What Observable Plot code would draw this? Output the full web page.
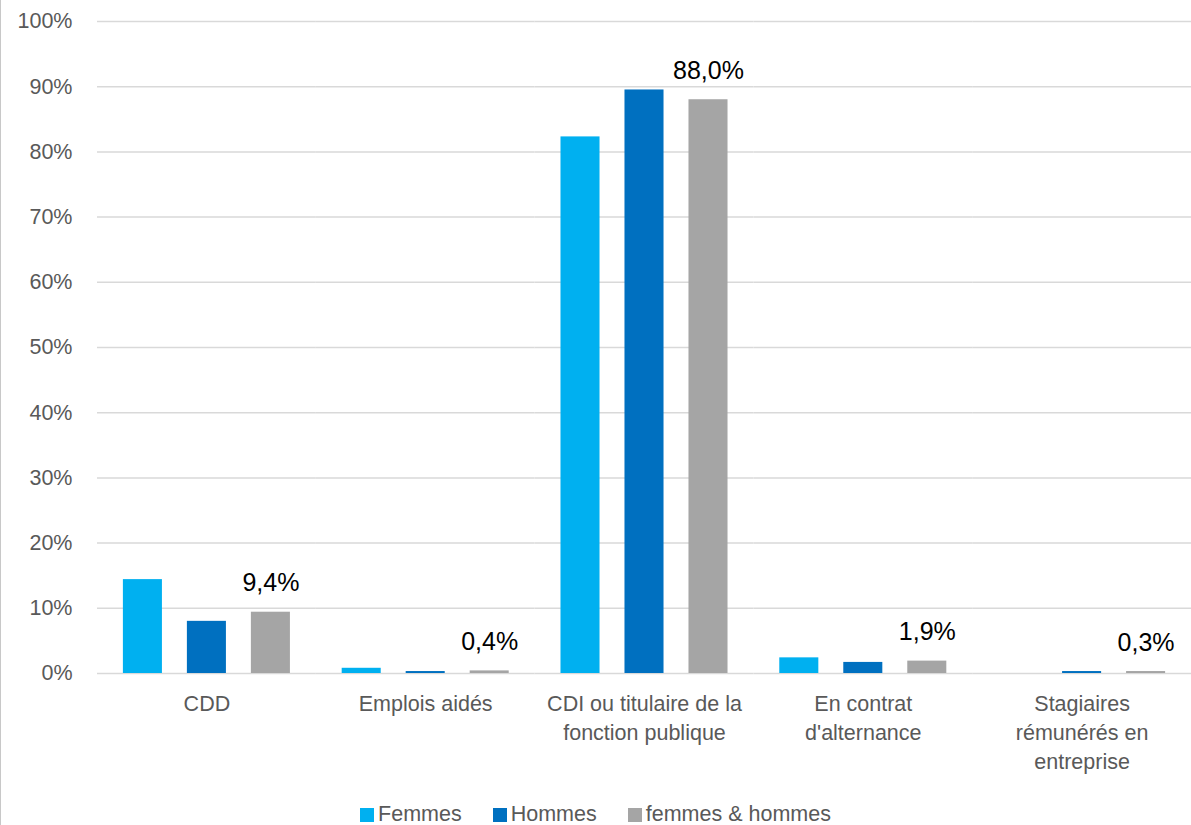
<!DOCTYPE html>
<html>
<head>
<meta charset="utf-8">
<script src="https://cdn.jsdelivr.net/npm/d3@7"></script>
<script src="https://cdn.jsdelivr.net/npm/@observablehq/plot@0.6"></script>
<style>
  html, body { margin: 0; padding: 0; background: #fff; }
  body { font-family: "Liberation Sans", Arial, sans-serif; }
  #wrap { position: relative; width: 1191px; height: 825px; overflow: hidden; }
  #border { position: absolute; left: 0; top: 0; width: 0; height: 825px; border-left: 1px solid #c8c8c8; }
  #legend { position: absolute; left: 0; top: 802px; width: 1191px; display: flex; justify-content: center; gap: 31px; font-size: 21.5px; color: #595959; }
  #legend .item { display: flex; align-items: center; gap: 4px; }
  #legend .sw { width: 14px; height: 14px; display: inline-block; }
</style>
</head>
<body>
<div id="wrap"><div id="chart"></div><div id="border"></div><div id="legend"></div></div>
<script>
const categories = ["CDD", "Emplois aidés", "CDI ou titulaire de la fonction publique", "En contrat d'alternance", "Stagiaires rémunérés en entreprise"];
const categoryLabels = ["CDD", "Emplois aidés", "CDI ou titulaire de la\nfonction publique", "En contrat\nd'alternance", "Stagiaires\nrémunérés en\nentreprise"];
const series = ["Femmes", "Hommes", "femmes & hommes"];
const colors = ["#00B0F0", "#0070C0", "#A5A5A5"];
const femmes = [14.4, 0.8, 82.3, 2.4, 0.0];
const hommes = [8.0, 0.3, 89.5, 1.7, 0.3];
const ensemble = [9.4, 0.4, 88.0, 1.9, 0.3];
const yTicks = [0, 10, 20, 30, 40, 50, 60, 70, 80, 90, 100];

const seriesValues = [femmes, hommes, ensemble];
const data = [];
categories.forEach((c, i) => {
  series.forEach((s, j) => data.push({cat: c, series: s, value: seriesValues[j][i]}));
});
const labelData = data.filter(d => d.series === "femmes & hommes");
const labelMap = new Map(categories.map((c, i) => [c, categoryLabels[i]]));
const fmt = v => v.toFixed(1).replace(".", ",") + "%";

const chart = Plot.plot({
  width: 1191,
  height: 790,
  marginLeft: 97,
  marginRight: 0,
  marginTop: 21,
  marginBottom: 117,
  style: {fontFamily: "Liberation Sans, Arial, sans-serif", background: "#fff"},
  fx: {domain: categories, paddingInner: 0, paddingOuter: 0, round: false, label: null, axis: null},
  x: {domain: series, paddingInner: 0.39, paddingOuter: 0.4045, round: false, axis: null},
  y: {domain: [0, 100], label: null},
  color: {domain: series, range: colors},
  marks: [
    Plot.gridY(yTicks, {stroke: "#d9d9d9", strokeOpacity: 1, strokeWidth: 1.5}),
    Plot.axisY(yTicks, {tickSize: 0, tickPadding: 25, fontSize: 21.5, fill: "#595959", tickFormat: d => d + "%", label: null}),
    Plot.axisFx({anchor: "bottom", tickSize: 0, tickPadding: 17, fontSize: 21.5, fill: "#595959", lineHeight: 1.35, tickFormat: c => labelMap.get(c), label: null}),
    Plot.barY(data, {fx: "cat", x: "series", y: "value", fill: "series"}),
    Plot.text(labelData, {fx: "cat", x: "series", y: "value", text: d => fmt(d.value), dy: -29, fontSize: 25, fill: "#000"})
  ]
});
document.getElementById("chart").appendChild(chart);

const legend = document.getElementById("legend");
series.forEach((s, i) => {
  const item = document.createElement("div");
  item.className = "item";
  const sw = document.createElement("span");
  sw.className = "sw";
  sw.style.background = colors[i];
  const t = document.createElement("span");
  t.textContent = s;
  item.appendChild(sw);
  item.appendChild(t);
  legend.appendChild(item);
});
</script>
</body>
</html>
